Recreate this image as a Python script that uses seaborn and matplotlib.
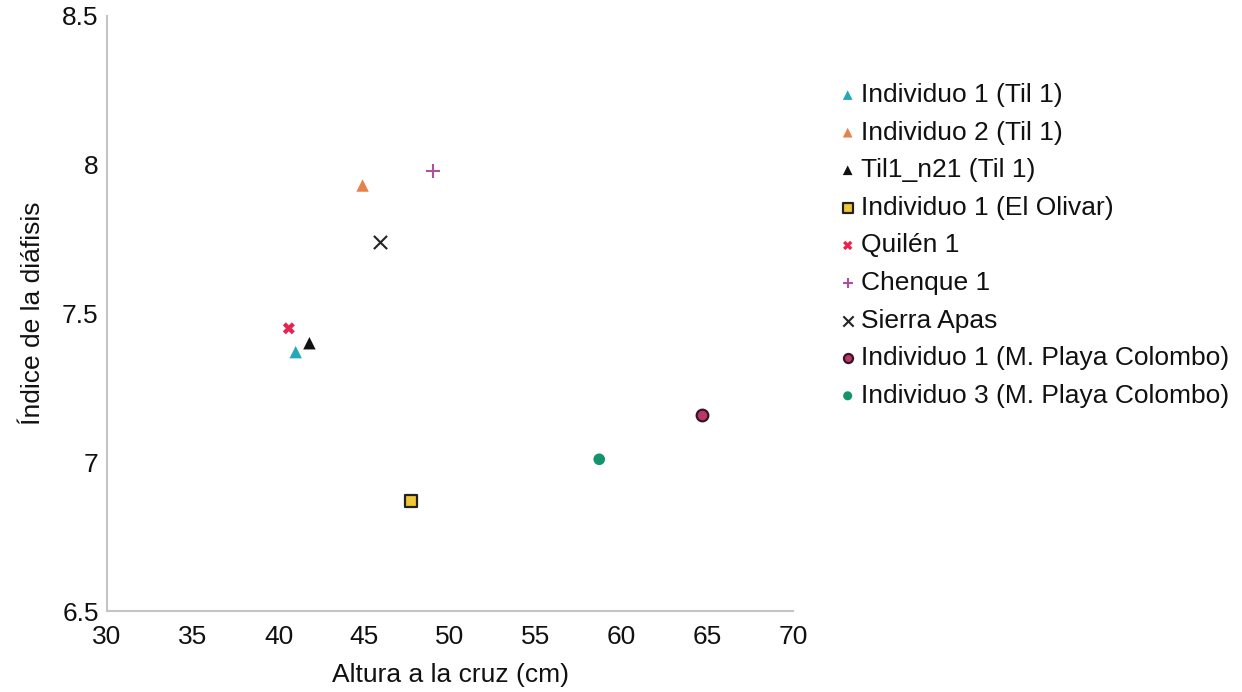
import matplotlib
matplotlib.use("Agg")
import matplotlib.pyplot as plt
import seaborn as sns
import pandas as pd

# Individuals: withers height (cm) and diaphysis index
labels = [
    "Individuo 1 (Til 1)",
    "Individuo 2 (Til 1)",
    "Til1_n21 (Til 1)",
    "Individuo 1 (El Olivar)",
    "Quilén 1",
    "Chenque 1",
    "Sierra Apas",
    "Individuo 1 (M. Playa Colombo)",
    "Individuo 3 (M. Playa Colombo)",
]
altura = [41.0, 44.9, 41.8, 47.7, 40.6, 49.0, 45.9, 64.7, 58.7]
indice = [7.37, 7.93, 7.40, 6.87, 7.45, 7.98, 7.74, 7.16, 7.01]

# Marker styling per individual
colors = ["#25a9b8", "#e8804a", "#111111", "#f2c737", "#e8244e",
          "#b0509c", "#222222", "#b8386a", "#13946c"]
edges = ["none", "none", "none", "#222222", "none",
         "none", "none", "#3a1424", "none"]
markers = ["^", "^", "^", "s", "X", "+", "x", "o", "o"]
sizes = [80, 80, 80, 75, 75, 100, 90, 70, 70]

df = pd.DataFrame({"label": labels, "altura": altura, "indice": indice})

sns.set_theme(style="white")
plt.rcParams["font.family"] = ["Liberation Sans", "DejaVu Sans"]

fig = plt.figure(figsize=(12.42, 6.92), dpi=100)
ax = fig.add_axes([0.0862, 0.117, 0.5523, 0.860])

for i, row in df.iterrows():
    lw = 1.5 if markers[i] in ("+", "x") else (1.6 if edges[i] != "none" else 0)
    sns.scatterplot(
        x=[row["altura"]], y=[row["indice"]], ax=ax,
        marker=markers[i], s=sizes[i], color=colors[i],
        edgecolor=edges[i] if markers[i] not in ("+", "x") else colors[i],
        linewidth=lw, label=row["label"], zorder=3,
    )

ax.set_xlim(30, 70)
ax.set_ylim(6.5, 8.5)
ax.set_xticks(range(30, 71, 5))
ax.set_yticks([6.5, 7, 7.5, 8, 8.5])
ax.set_yticklabels(["6.5", "7", "7.5", "8", "8.5"])

for side in ("top", "right"):
    ax.spines[side].set_visible(False)
for side in ("left", "bottom"):
    ax.spines[side].set_color("#c4c4c4")
    ax.spines[side].set_linewidth(1.5)

ax.tick_params(axis="both", direction="in", length=4, width=1.2,
               color="#c4c4c4", labelsize=19, labelcolor="#111111")
ax.tick_params(axis="x", pad=10)
ax.tick_params(axis="y", pad=6)

ax.set_xlabel("Altura a la cruz (cm)", fontsize=19, color="#111111", labelpad=10)
ax.set_ylabel("Índice de la diáfisis", fontsize=19, color="#111111", labelpad=12)

leg = ax.legend(loc="upper left", bbox_to_anchor=(1.047, 0.905), frameon=False,
                fontsize=19, handletextpad=0.05, labelspacing=0.515,
                markerscale=0.78, handlelength=0.9, borderaxespad=0)
for t in leg.get_texts():
    t.set_color("#111111")

fig.savefig("out.png", dpi=100, facecolor="white")
